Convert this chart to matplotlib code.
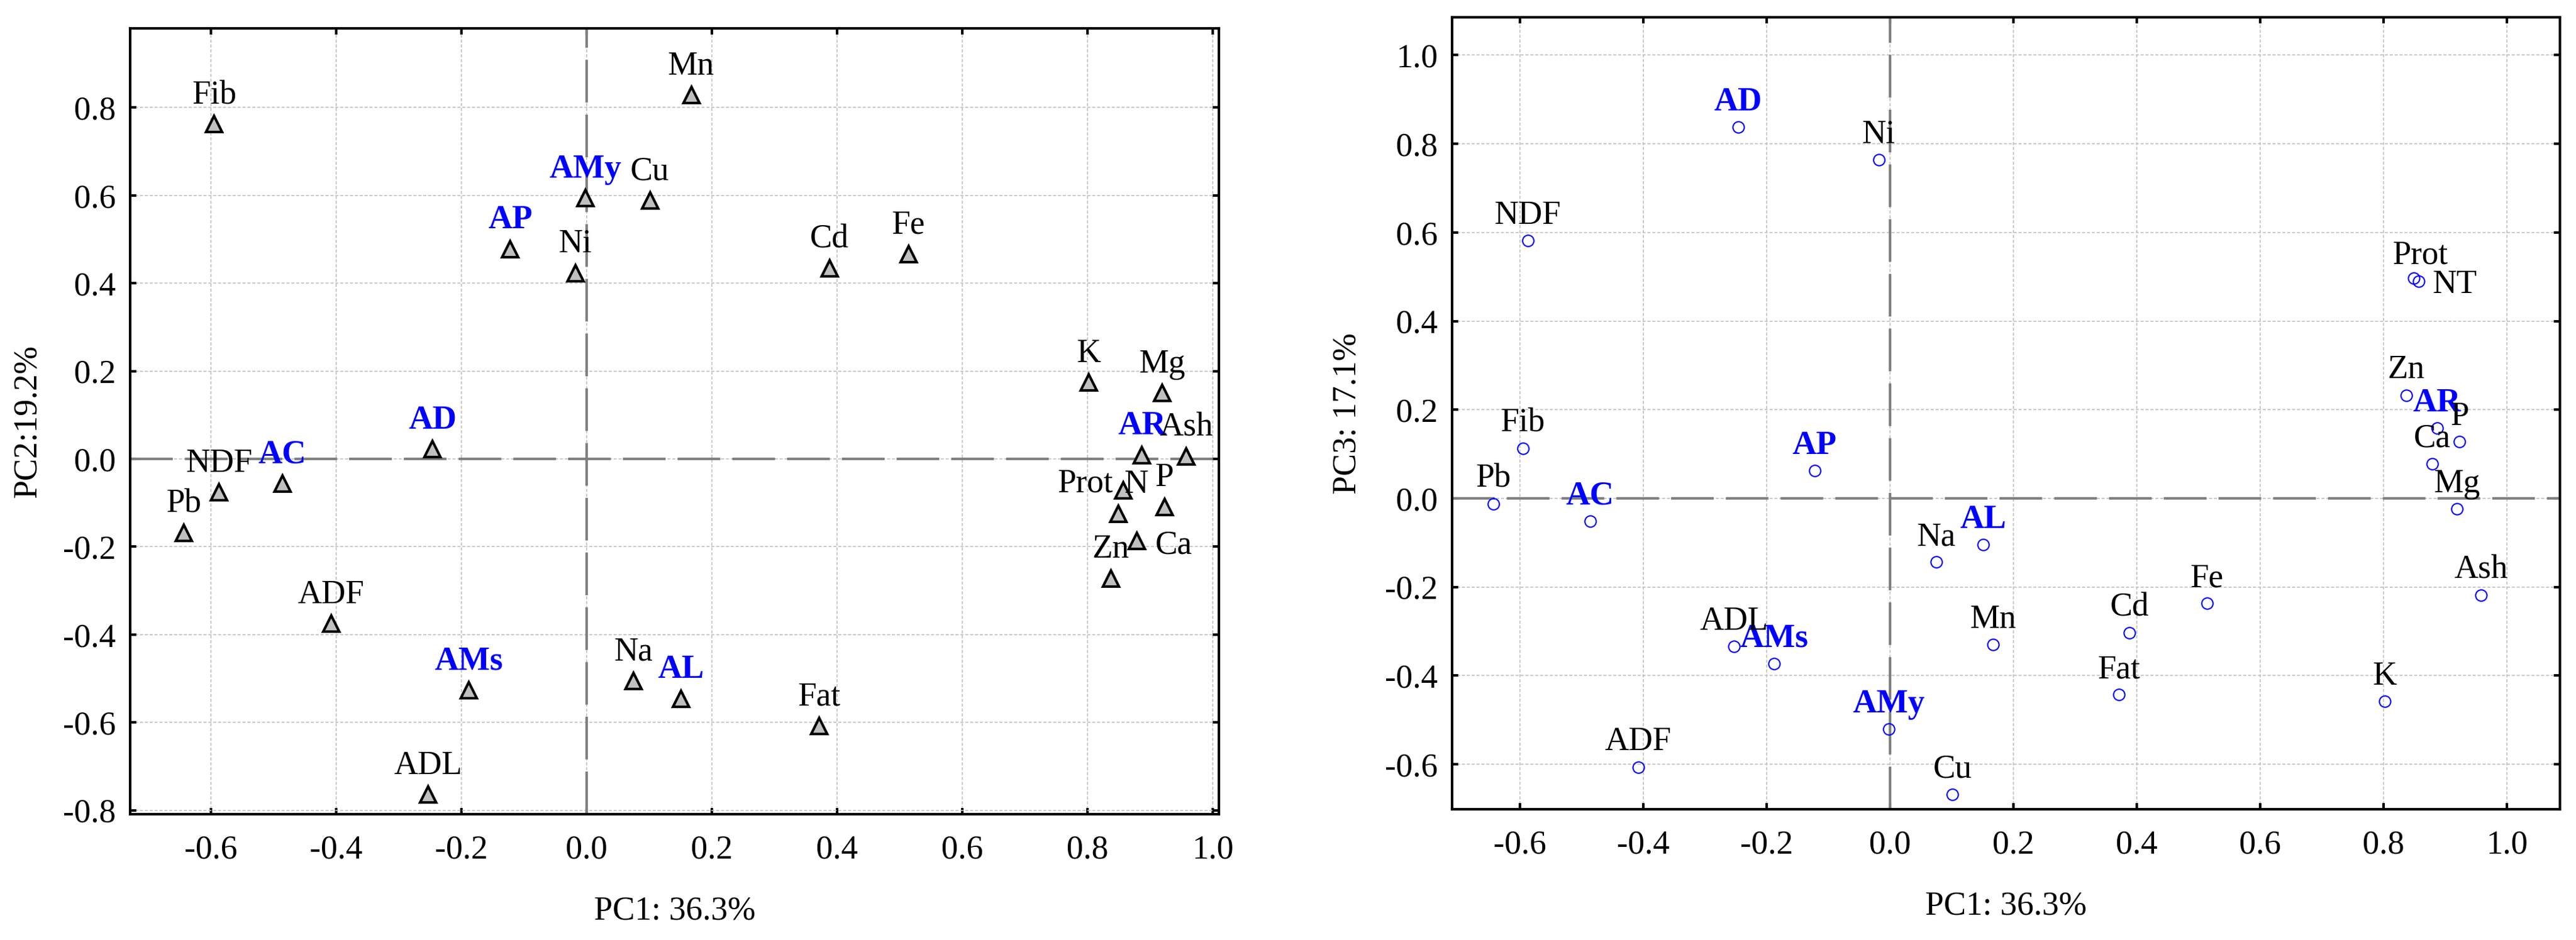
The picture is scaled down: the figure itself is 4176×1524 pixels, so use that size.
import matplotlib
matplotlib.use("Agg")
import matplotlib.pyplot as plt
from matplotlib.ticker import FormatStrFormatter, MultipleLocator

# ---------------- data ----------------
labels_pc12 = ["Fib", "Mn", "AMy", "Cu", "AP", "Ni", "Cd", "Fe", "K", "Mg", "AD", "AR", "Ash",
               "NDF", "AC", "Pb", "Prot", "N", "P", "Zn", "Ca", "ADF", "AMs", "Na", "AL", "Fat", "ADL"]
labels_pc13 = ["Fib", "Mn", "AMy", "Cu", "AP", "Ni", "Cd", "Fe", "K", "Mg", "AD", "AR", "Ash",
               "NDF", "AC", "Pb", "Prot", "NT", "P", "Zn", "Ca", "ADF", "AMs", "Na", "AL", "Fat", "ADL"]
sample_codes = ["AMy", "AP", "AD", "AR", "AC", "AMs", "AL"]

pc1 = [-0.595, 0.167, -0.002, 0.101, -0.122, -0.018, 0.388, 0.514, 0.802, 0.919, -0.246, 0.887, 0.958,
       -0.587, -0.486, -0.643, 0.849, 0.857, 0.923, 0.837, 0.879, -0.408, -0.188, 0.075, 0.151, 0.371, -0.253]
pc2 = [0.762, 0.828, 0.594, 0.589, 0.478, 0.423, 0.434, 0.466, 0.174, 0.150, 0.022, 0.009, 0.006,
       -0.076, -0.056, -0.169, -0.125, -0.071, -0.109, -0.272, -0.187, -0.375, -0.527, -0.506, -0.546, -0.608, -0.764]
pc3 = [0.113, -0.330, -0.520, -0.668, 0.062, 0.764, -0.303, -0.237, -0.458, -0.024, 0.838, 0.159, -0.218,
       0.582, -0.051, -0.012, 0.497, 0.490, 0.128, 0.233, 0.078, -0.606, -0.373, -0.144, -0.105, -0.443, -0.334]

xlabel_text = "PC1: 36.3%"
ylabel_pc2 = "PC2:19.2%"
ylabel_pc3 = "PC3: 17.1%"

# ---------------- layout / style ----------------
plt.rcParams["font.family"] = ["Liberation Serif", "DejaVu Serif"]
plt.rcParams["axes.unicode_minus"] = False
plt.rcParams["lines.scale_dashes"] = False

W, H, DPI = 4176, 1524, 300
fig = plt.figure(figsize=(W / DPI, H / DPI), dpi=DPI)

ax1 = fig.add_axes([0.05053, 0.13386, 0.42266, 0.83596])
ax2 = fig.add_axes([0.56360, 0.13924, 0.43029, 0.84239])

# label offsets in points (dx, dy, ha); default centred above the marker
offsets_pc12 = {"Prot": (-2.0, 8.6, "right"), "N": (0.3, -1.0, "left"), "Ca": (7.0, -5.0, "left")}
offsets_pc13 = {"Prot": (2.4, 5.5, "center"), "NT": (5.3, -4.5, "left")}


def style_axes(ax, xlim, ylim):
    ax.set_xlim(*xlim)
    ax.set_ylim(*ylim)
    ax.xaxis.set_major_locator(MultipleLocator(0.2))
    ax.yaxis.set_major_locator(MultipleLocator(0.2))
    ax.xaxis.set_major_formatter(FormatStrFormatter("%.1f"))
    ax.yaxis.set_major_formatter(FormatStrFormatter("%.1f"))
    ax.tick_params(direction="in", length=2.4, width=1.0, top=True, right=True,
                   labelsize=13, colors="black")
    ax.tick_params(axis="x", pad=8)
    ax.tick_params(axis="y", pad=5.5)
    for s in ax.spines.values():
        s.set_linewidth(1.0)
    ax.grid(True, color="#c0c0c0", lw=0.4, linestyle=(0, (1.2, 0.7)), zorder=0)
    ax.set_axisbelow(True)
    ax.axhline(0, color="#808080", lw=1.0, linestyle=(0, (16.6, 4.7)), zorder=1)
    ax.axvline(0, color="#808080", lw=1.0, linestyle=(0, (16.6, 4.7)), zorder=1)


def label_points(ax, xs, ys, labels, default_dy, offsets):
    for x, y, lab in zip(xs, ys, labels):
        dx, dy, ha = offsets.get(lab, (0.0, default_dy, "center"))
        if lab in sample_codes:
            kw = dict(color="#0000ff", fontweight="bold")
        else:
            kw = dict(color="black")
        ax.annotate(lab, (x, y), xytext=(dx, dy), textcoords="offset points",
                    ha=ha, va="baseline", fontsize=13, zorder=4, **kw)


# ---- left: PC1 vs PC2 ----
style_axes(ax1, (-0.7291, 1.0099), (-0.809, 0.9803))
ax1.plot(pc1, pc2, linestyle="none", marker="^", markersize=6.2, markerfacecolor="#c0c0c0",
         markeredgecolor="black", markeredgewidth=1.0, zorder=3)
label_points(ax1, pc1, pc2, labels_pc12, 8.0, offsets_pc12)
ax1.set_xlabel(xlabel_text, fontsize=13)
ax1.set_ylabel(ylabel_pc2, fontsize=13)

# ---- right: PC1 vs PC3 ----
style_axes(ax2, (-0.7104, 1.0865), (-0.701, 1.0853))
ax2.plot(pc1, pc3, linestyle="none", marker="o", markersize=4.4, markerfacecolor="none",
         markeredgecolor="#0000ff", markeredgewidth=0.5, zorder=3)
label_points(ax2, pc1, pc3, labels_pc13, 6.5, offsets_pc13)
ax2.set_xlabel(xlabel_text, fontsize=13)
ax2.set_ylabel(ylabel_pc3, fontsize=13)

for ax, below_px, axh in ((ax1, 157.5, 1274.0), (ax2, 157.0, 1283.8)):
    ax.xaxis.label.set_va("center")
    ax.xaxis.set_label_coords(0.5, -below_px / axh)
    ax.yaxis.label.set_va("center")
    ax.yaxis.set_label_coords(-0.094, 0.5)

fig.savefig("out.png", dpi=DPI, facecolor="white")
